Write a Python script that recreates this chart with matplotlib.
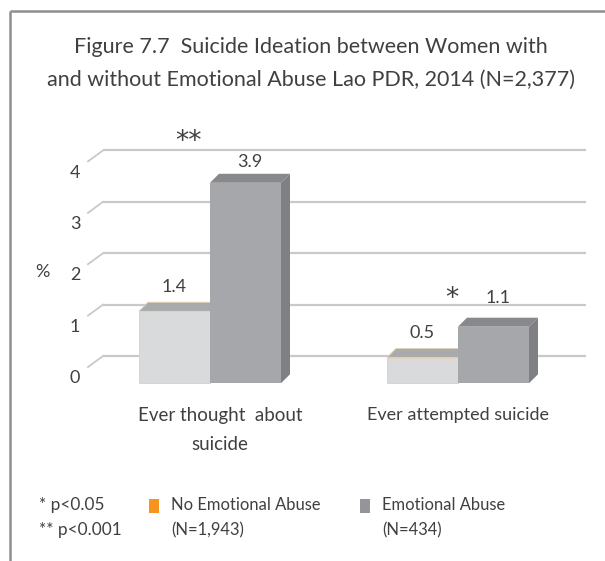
import matplotlib
matplotlib.use("Agg")
import matplotlib.pyplot as plt
from matplotlib.patches import Polygon, Rectangle

# ---------------- data ----------------
categories = ["Ever thought  about\nsuicide", "Ever attempted suicide"]
series_names = ["No Emotional Abuse\n(N=1,943)", "Emotional Abuse\n(N=434)"]
no_abuse = [1.4, 0.5]
abuse = [3.9, 1.1]
y_ticks = [0, 1, 2, 3, 4]
significance = ["**", "*"]
footnotes = ["* p<0.05", "** p<0.001"]
title = "Figure 7.7  Suicide Ideation between Women with\nand without Emotional Abuse Lao PDR, 2014 (N=2,377)"

# ---------------- style ----------------
plt.rcParams['font.family'] = ['Lato', 'DejaVu Sans']
TXT = "#404040"
FS = 13
W, H = 605, 561
fig = plt.figure(figsize=(W / 100, H / 100), dpi=100)
ax = fig.add_axes([0, 0, 1, 1])

# pixel <-> data mapping (group centre 0 at px 210, 248 px per category; value 0 at py 356, 51.4 px per unit)
X0, XS, Y0, YS = 210.0, 248.0, 356.0, 51.4
ax.set_xlim(-X0 / XS, (W - X0) / XS)
ax.set_ylim(-(H - Y0) / YS, Y0 / YS)
ax.axis("off")

def px(x):
    return (x - X0) / XS

def py(y):
    return (Y0 - y) / YS

def lines(x, ys, text, **kw):
    for yy, s in zip(ys, text.split("\n")):
        ax.text(x, py(yy), s, va="center", color=TXT, **kw)

# 3-D geometry
bar_w = 71 / XS
ddx, ddy = 9 / XS, 9 / YS          # depth of bar top/side
base = -0.53                        # front-face baseline relative to back wall
wall_left, wall_right = px(103), px(586)
diag_dx, diag_dy = 15 / XS, 11 / YS

# gridlines on back wall + left wall diagonals
for v in y_ticks:
    ax.plot([wall_left, wall_right], [v, v], color="#c9c9cb", lw=1.6, solid_capstyle="butt", zorder=1)
    ax.plot([wall_left - diag_dx, wall_left], [v - diag_dy, v], color="#c9c9cb", lw=1.3, zorder=1)
    ax.text(px(75), v - 0.43, str(v), ha="center", va="center", fontsize=FS, color=TXT)

ax.text(px(42), py(272), "%", ha="center", va="center", fontsize=FS, color=TXT)

def bar3d(x0, val, front, top, side, edge, z):
    t = base + val
    b = base
    ax.add_patch(Polygon([(x0 + bar_w, b), (x0 + bar_w, t), (x0 + bar_w + ddx, t + ddy), (x0 + bar_w + ddx, b + ddy)],
                         closed=True, facecolor=side, edgecolor="none", zorder=z))
    ax.add_patch(Polygon([(x0, t), (x0 + ddx, t + ddy), (x0 + bar_w + ddx, t + ddy), (x0 + bar_w, t)],
                         closed=True, facecolor=top, edgecolor=edge, lw=0.6, zorder=z))
    ax.add_patch(Rectangle((x0, b), bar_w, val, facecolor=front, edgecolor=edge, lw=0.6, zorder=z + 0.1))

for i, cat in enumerate(categories):
    c = i
    bar3d(c - bar_w, no_abuse[i], "#d9dadb", "#a9aaac", "#bcbdbf", "#e3cfae", 3)
    bar3d(c, abuse[i], "#a6a7aa", "#89898c", "#7f8083", "none", 4)
    ax.text(c - bar_w / 2, base + no_abuse[i] + ddy + 0.3, f"{no_abuse[i]:.1f}", ha="center", va="center",
            fontsize=FS, color=TXT)
    off = 0.22 if abuse[i] > 3 else 0.38
    ax.text(c + bar_w / 2 + ddx / 2, base + abuse[i] + ddy + off, f"{abuse[i]:.1f}", ha="center", va="center",
            fontsize=FS, color=TXT)

# significance marks
ax.text(px(188), py(142), significance[0], ha="center", va="center", fontsize=19, color=TXT,
        family="DejaVu Sans")
ax.text(px(452), py(299), significance[1], ha="center", va="center", fontsize=19, color=TXT,
        family="DejaVu Sans")

# category labels
lines(px(220), [415, 445], categories[0], ha="center", fontsize=FS + 0.5)
lines(px(458), [415], categories[1], ha="center", fontsize=FS)

# title
lines(px(311), [47, 80], title, ha="center", fontsize=15.5)

# legend / footnotes
lines(px(39), [505, 530], "\n".join(footnotes), ha="left", fontsize=12.4)
ax.add_patch(Rectangle((px(149), py(513)), 10 / XS, 14 / YS, facecolor="#f7941d", edgecolor="none"))
lines(px(171), [505, 530], series_names[0], ha="left", fontsize=11.9)
ax.add_patch(Rectangle((px(360), py(513)), 10 / XS, 14 / YS, facecolor="#939598", edgecolor="none"))
lines(px(382), [505, 530], series_names[1], ha="left", fontsize=11.9)

# frame (top and left)
ax.plot([px(10), px(605)], [py(11), py(11)], color="#8e8e8e", lw=1.8, solid_capstyle="butt")
ax.plot([px(10), px(10)], [py(11), py(561)], color="#8e8e8e", lw=1.8, solid_capstyle="butt")

fig.savefig("out.png", dpi=100)
